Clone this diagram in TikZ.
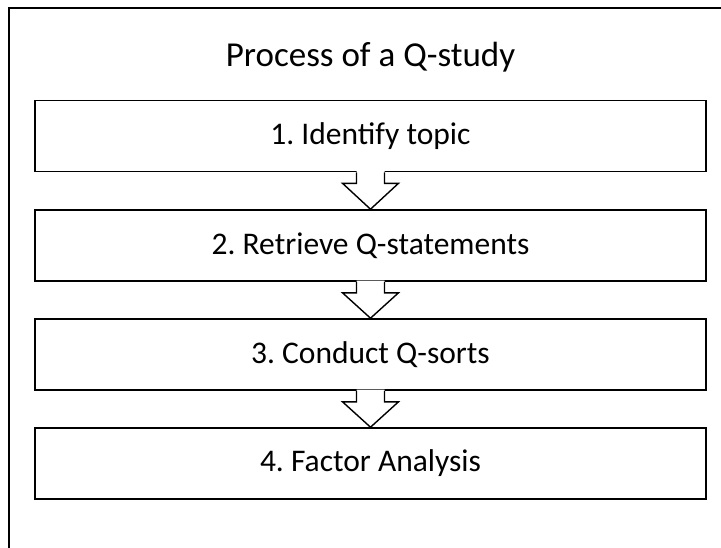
\documentclass[tikz,border=0pt]{standalone}
\usepackage{fontspec}
\setmainfont{Carlito}
\frenchspacing
\usetikzlibrary{calc}
\tikzset{
  stepbox/.style={draw=black, line width=1.6pt, fill=white, rectangle,
    minimum width=671pt, minimum height=71pt, inner sep=0pt,
    font=\fontsize{31.5}{36}\selectfont},
  titletext/.style={font=\fontsize{35}{42}\selectfont, inner sep=0pt},
  framestyle/.style={draw=black, line width=1.8pt},
  flowline/.style={draw=black, line width=1.4pt, line join=miter},
}
% block arrow from the bottom of box #1 to the top of box #2
\newcommand{\blockarrow}[2]{%
  \fill[white] ($(#1.south)+(-14,-1.2)$) -- ++(0,12.2) -- ++(-14,0) -- (#2.north)
     -- ($(#1.south)+(28,11)$) -- ++(-14,0) -- ++(0,-12.2) -- cycle;
  \draw[flowline] ($(#1.south)+(-14,0)$) -- ++(0,11) -- ++(-14,0) -- (#2.north)
     -- ($(#1.south)+(28,11)$) -- ++(-14,0) -- ++(0,-11);
}
\begin{document}
\begin{tikzpicture}[x=1pt,y=-1pt]
  \useasboundingbox (0,0) rectangle (721,547);
  \fill[white] (0,0) rectangle (721,547);
  % outer frame (right and bottom sides lie outside the view)
  \coordinate (fbl) at (9,548);
  \coordinate (ftl) at (9,8);
  \coordinate (ftr) at (722,8);
  \draw[framestyle] (fbl) -- (ftl) -- (ftr);
  % title
  \node[titletext] (title) at (370.5,57) {Process of a Q-study};
  % steps
  \node[stepbox] (b1) at (370.5,136) {1. Identify topic};
  \node[stepbox] (b2) at (370.5,245.5) {2. Retrieve Q-statements};
  \node[stepbox] (b3) at (370.5,354.5) {3. Conduct Q-sorts};
  \node[stepbox] (b4) at (370.5,463.5) {4. Factor Analysis};
  % arrows between the steps
  \blockarrow{b1}{b2}
  \blockarrow{b2}{b3}
  \blockarrow{b3}{b4}
\end{tikzpicture}
\end{document}
